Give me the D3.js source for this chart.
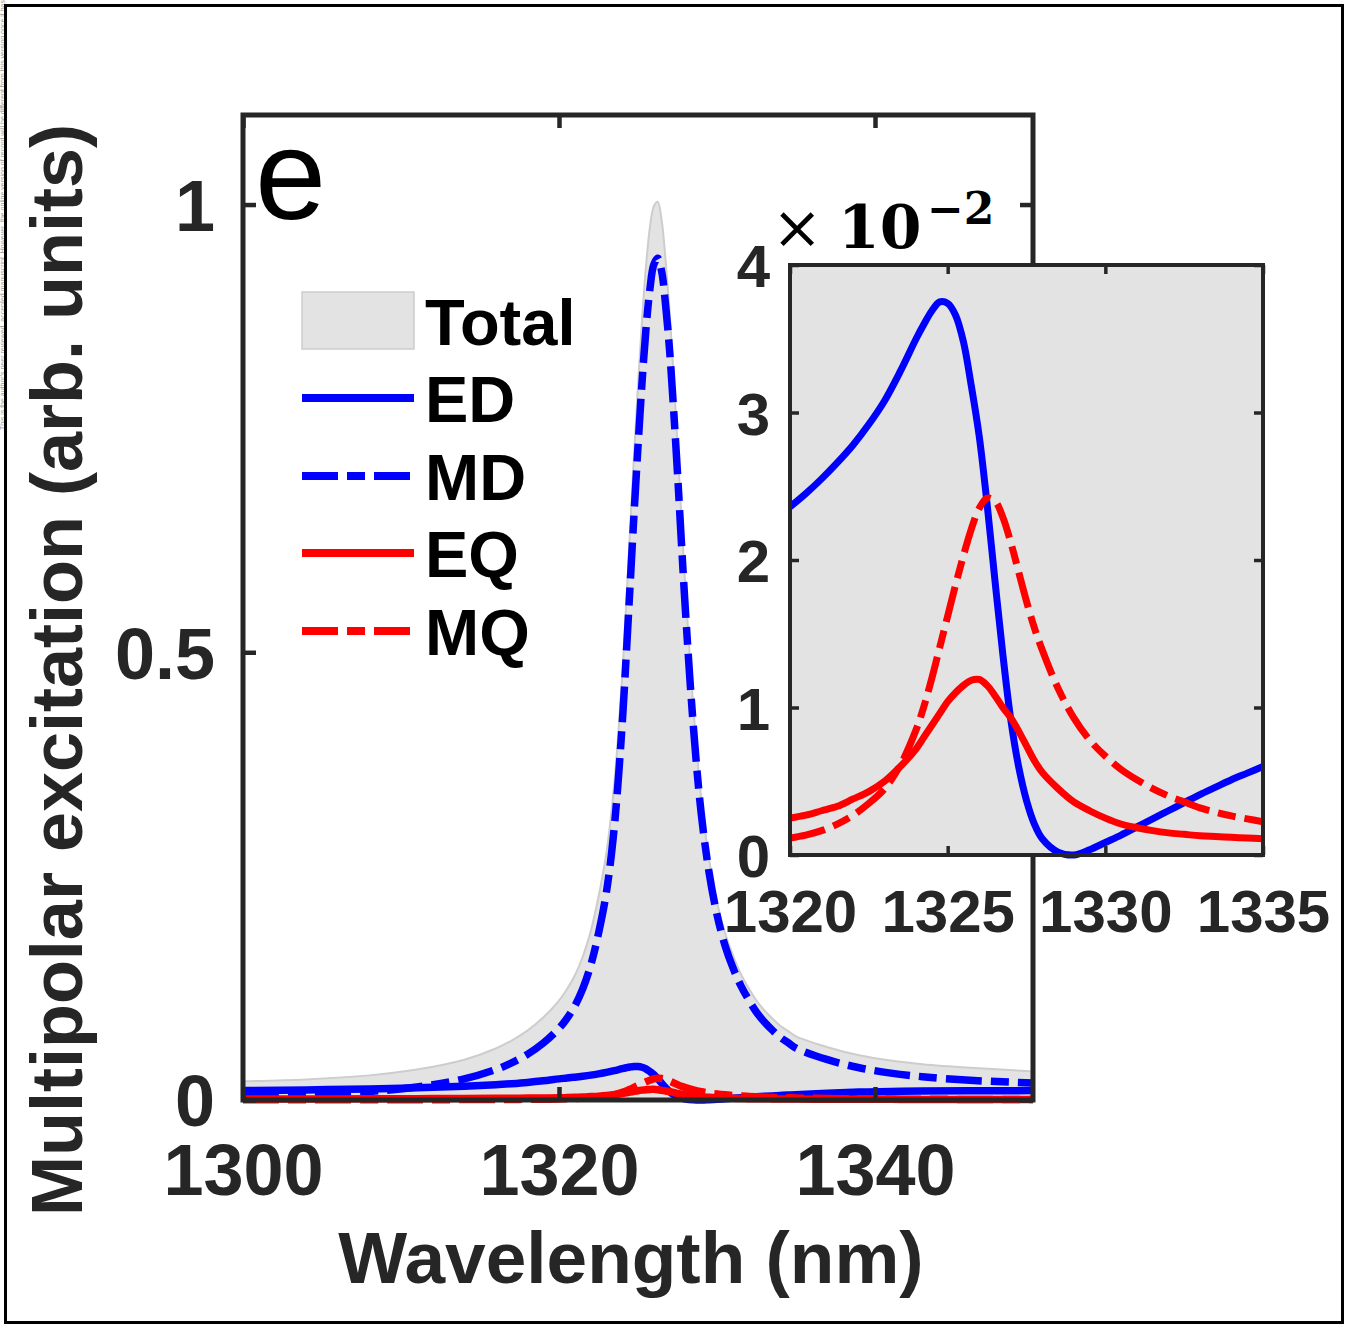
<!DOCTYPE html>
<html><head><meta charset="utf-8">
<script src="https://cdn.jsdelivr.net/npm/d3@7"></script>
<style>body{margin:0;background:#fff}svg{display:block}</style>
</head><body>
<svg id="c" width="1346" height="1336"></svg>
<script>
// ---------- data ----------
const wavelength = [1300,1304,1308,1311,1314,1316,1317,1318,1319,1320,1320.5,1321,1321.5,1322,1322.5,1323,1323.5,1324,1324.25,1324.5,1324.75,1325,1325.25,1325.5,1325.75,1326,1326.25,1326.5,1326.75,1327,1327.25,1327.5,1327.75,1328,1328.5,1329,1329.5,1330,1330.5,1331,1331.5,1332,1332.5,1333,1333.5,1334,1334.5,1335,1337,1339,1341,1343,1346,1350];
const totalVals = [0.021,0.023,0.0275,0.034,0.045,0.0575,0.0664,0.0775,0.0921,0.111,0.1236,0.139,0.160,0.188,0.227,0.276,0.354,0.474,0.553,0.637,0.721,0.798,0.870,0.930,0.974,0.998,1.003,0.982,0.937,0.881,0.810,0.732,0.650,0.572,0.439,0.337,0.269,0.221,0.187,0.162,0.141,0.125,0.111,0.100,0.091,0.083,0.077,0.071,0.059,0.050,0.044,0.040,0.036,0.032];
const edVals = [0.0105,0.0113,0.0124,0.0136,0.0153,0.0170,0.0182,0.0196,0.0214,0.0236,0.0245,0.0255,0.0266,0.0278,0.0292,0.0308,0.0328,0.0350,0.0360,0.0369,0.0375,0.0374,0.0366,0.0348,0.0318,0.0284,0.0238,0.0186,0.0136,0.0092,0.0060,0.0037,0.0021,0.0011,0.0002,0.0000,0.00035,0.00085,0.00135,0.0019,0.00245,0.0030,0.00355,0.0041,0.0046,0.0051,0.00555,0.0060,0.0076,0.0088,0.0096,0.0100,0.0103,0.0105];
const mdVals = [0.0046,0.0062,0.0095,0.0145,0.0235,0.034,0.0415,0.051,0.0635,0.080,0.091,0.105,0.124,0.150,0.186,0.232,0.305,0.420,0.495,0.575,0.655,0.730,0.800,0.860,0.905,0.933,0.940,0.925,0.887,0.837,0.772,0.700,0.622,0.547,0.418,0.320,0.254,0.207,0.173,0.148,0.128,0.112,0.098,0.087,0.078,0.070,0.064,0.058,0.045,0.036,0.030,0.026,0.022,0.019];
const eqVals = [0.0010,0.0011,0.0013,0.0015,0.0017,0.0019,0.0020,0.00215,0.0023,0.0025,0.0027,0.0030,0.0033,0.0038,0.0043,0.0050,0.0060,0.0072,0.0080,0.0088,0.0096,0.0104,0.0110,0.0115,0.01185,0.0119,0.0115,0.0108,0.0100,0.0093,0.0084,0.0074,0.0064,0.0056,0.0045,0.0036,0.0030,0.0025,0.0021,0.00185,0.00165,0.0015,0.0014,0.0013,0.00125,0.0012,0.00115,0.0011,0.0009,0.0008,0.0007,0.00065,0.0006,0.0005];
const mqVals = [0.0002,0.00025,0.0003,0.00035,0.00045,0.00055,0.00065,0.00075,0.0009,0.00115,0.00135,0.00165,0.0021,0.0027,0.0035,0.0045,0.0061,0.0085,0.0101,0.0120,0.0141,0.0162,0.0183,0.0203,0.0221,0.0235,0.0242,0.0240,0.0229,0.0212,0.0192,0.0172,0.0154,0.0139,0.0113,0.0093,0.0078,0.0067,0.0058,0.0051,0.0045,0.0040,0.0036,0.0032,0.0029,0.00265,0.00245,0.00225,0.0017,0.0013,0.0010,0.00085,0.00065,0.0005];

const mainTicksX = [1300,1320,1340];
const mainTicksY = [0,0.5,1];
const insetTicksX = [1320,1325,1330,1335];
const insetTicksY = [0,0.01,0.02,0.03,0.04];
const legendLabels = ["Total","ED","MD","EQ","MQ"];
const xLabel = "Wavelength (nm)";
const yLabel = "Multipolar excitation (arb. units)";
const panelLabel = "e";

// ---------- setup ----------
const svg = d3.select("#c");
const AX = "#262626";
const BLUE = "#0000ff", RED = "#ff0000", FILL = "#e3e3e3", EDGE = "#cdcdcd";
const DASHDOT = "36,9,18,9";
const CURVE = d3.curveCatmullRom.alpha(0.5);

svg.append("rect").attr("x",0).attr("y",0).attr("width",1346).attr("height",1336).attr("fill","#fff");

// faint side note at the far left edge
svg.append("text").attr("transform","translate(5,430) rotate(-90)")
  .attr("font-family","Liberation Sans, Arial, sans-serif").attr("font-size",7).attr("fill","#9a9a9a")
  .text("This is the author's peer reviewed, accepted manuscript. However, the online version of record will be different from this version once it has been copyedited and typeset.");

// outer frame
svg.append("rect").attr("x",5.5).attr("y",5.5).attr("width",1337).attr("height",1317)
  .attr("fill","none").attr("stroke","#000").attr("stroke-width",3);

const data = wavelength.map((w,i)=>({w, total: totalVals[i], ed: edVals[i], md: mdVals[i], eq: eqVals[i], mq: mqVals[i]}));

// ---------- main axes ----------
const x = d3.scaleLinear().domain([1300,1350]).range([243,1033]);
const y = d3.scaleLinear().domain([0,1.1]).range([1100,115]);

const gMain = svg.append("g");
const area = d3.area().curve(CURVE).x(d=>x(d.w)).y0(y(0)).y1(d=>y(d.total));
gMain.append("path").datum(data).attr("d",area).attr("fill",FILL).attr("stroke",EDGE).attr("stroke-width",2);

const series = [
  {key:"ed", color:BLUE, dash:null},
  {key:"md", color:BLUE, dash:DASHDOT},
  {key:"eq", color:RED, dash:null},
  {key:"mq", color:RED, dash:DASHDOT}
];
series.forEach(s=>{
  const ln = d3.line().curve(CURVE).x(d=>x(d.w)).y(d=>y(d[s.key]));
  gMain.append("path").datum(data).attr("d",ln).attr("fill","none")
    .attr("stroke",s.color).attr("stroke-width",7.5).attr("stroke-dasharray",s.dash);
});

// ticks (inward) and labels
const fontMain = "Liberation Sans, Arial, sans-serif";
function styleAxis(g, fs){
  g.select(".domain").remove();
  g.selectAll(".tick line").attr("stroke",AX).attr("stroke-width",4.5);
  g.selectAll(".tick text").attr("fill",AX).attr("font-family",fontMain).attr("font-weight","bold").attr("font-size",fs);
}
const axB = svg.append("g").attr("transform",`translate(0,${y(0)})`)
  .call(d3.axisBottom(x).tickValues(mainTicksX).tickFormat(d3.format("d")).tickSizeInner(-13).tickSizeOuter(0).tickPadding(44));
styleAxis(axB,72);
const axT = svg.append("g").attr("transform",`translate(0,${y(1.1)})`)
  .call(d3.axisTop(x).tickValues(mainTicksX).tickFormat("").tickSizeInner(-13).tickSizeOuter(0));
styleAxis(axT,72);
const axL = svg.append("g").attr("transform",`translate(${x(1300)},0)`)
  .call(d3.axisLeft(y).tickValues(mainTicksY).tickFormat(d=>d===0?"0":(d===1?"1":d3.format(".1f")(d))).tickSizeInner(-13).tickSizeOuter(0).tickPadding(28));
styleAxis(axL,72);
axL.selectAll(".tick text").attr("dy","0.36em");
const axR = svg.append("g").attr("transform",`translate(${x(1350)},0)`)
  .call(d3.axisRight(y).tickValues(mainTicksY).tickFormat("").tickSizeInner(-13).tickSizeOuter(0));
styleAxis(axR,72);
svg.append("rect").attr("x",x(1300)).attr("y",y(1.1)).attr("width",x(1350)-x(1300)).attr("height",y(0)-y(1.1))
  .attr("fill","none").attr("stroke",AX).attr("stroke-width",5);

// axis labels
svg.append("text").attr("x",631).attr("y",1283).attr("text-anchor","middle")
  .attr("font-family",fontMain).attr("font-weight","bold").attr("font-size",73).attr("fill",AX).text(xLabel);
svg.append("text").attr("transform","translate(82,670) rotate(-90)").attr("text-anchor","middle")
  .attr("font-family",fontMain).attr("font-weight","bold").attr("font-size",72).attr("fill",AX).text(yLabel);

// panel label
svg.append("text").attr("x",255).attr("y",219).attr("font-family",fontMain).attr("font-size",128).attr("fill","#000").text(panelLabel);

// legend
const lg = svg.append("g");
const legY = [320, 398, 476, 553, 631];
const legBase = [345, 422, 500, 577, 655];
lg.append("rect").attr("x",302).attr("y",292).attr("width",112).attr("height",57)
  .attr("fill",FILL).attr("stroke",EDGE).attr("stroke-width",1.5);
series.forEach((s,i)=>{
  lg.append("line").attr("x1",302).attr("x2",414).attr("y1",legY[i+1]).attr("y2",legY[i+1])
    .attr("stroke",s.color).attr("stroke-width",8).attr("stroke-dasharray",s.dash);
});
legendLabels.forEach((t,i)=>{
  lg.append("text").attr("x",425).attr("y",legBase[i]).attr("font-family",fontMain).attr("font-weight","bold")
    .attr("font-size",65).attr("fill","#000").text(t);
});

// ---------- inset ----------
const xi = d3.scaleLinear().domain([1320,1335]).range([790,1263]);
const yi = d3.scaleLinear().domain([0,0.04]).range([855,265]);
const insetData = data.filter(d=>d.w>=1320 && d.w<=1335);

svg.append("rect").attr("x",790).attr("y",265).attr("width",473).attr("height",590).attr("fill","#fff");
const defs = svg.append("defs");
defs.append("clipPath").attr("id","clipArea").append("rect").attr("x",790).attr("y",265).attr("width",473).attr("height",590);
defs.append("clipPath").attr("id","clipLine").append("rect").attr("x",790).attr("y",261).attr("width",473).attr("height",598);

const gIn = svg.append("g");
const areaI = d3.area().curve(CURVE).x(d=>xi(d.w)).y0(yi(0)).y1(d=>yi(d.total));
gIn.append("path").datum(insetData).attr("d",areaI).attr("fill",FILL).attr("clip-path","url(#clipArea)");
series.filter(s=>s.key!=="md").forEach(s=>{
  const ln = d3.line().curve(CURVE).x(d=>xi(d.w)).y(d=>yi(d[s.key]));
  gIn.append("path").datum(insetData).attr("d",ln).attr("fill","none").attr("clip-path","url(#clipLine)")
    .attr("stroke",s.color).attr("stroke-width",7).attr("stroke-dasharray",s.dash);
});

function styleInset(g){
  g.select(".domain").remove();
  g.selectAll(".tick line").attr("stroke",AX).attr("stroke-width",3.5);
  g.selectAll(".tick text").attr("fill",AX).attr("font-family",fontMain).attr("font-weight","bold").attr("font-size",60);
}
const iB = svg.append("g").attr("transform",`translate(0,${yi(0)})`)
  .call(d3.axisBottom(xi).tickValues(insetTicksX).tickFormat(d3.format("d")).tickSizeInner(-9).tickSizeOuter(0).tickPadding(34));
styleInset(iB);
const iT = svg.append("g").attr("transform",`translate(0,${yi(0.04)})`)
  .call(d3.axisTop(xi).tickValues(insetTicksX).tickFormat("").tickSizeInner(-9).tickSizeOuter(0));
styleInset(iT);
const iL = svg.append("g").attr("transform",`translate(${xi(1320)},0)`)
  .call(d3.axisLeft(yi).tickValues(insetTicksY).tickFormat(d=>d3.format("d")(Math.round(d*100))).tickSizeInner(-9).tickSizeOuter(0).tickPadding(20));
styleInset(iL);
iL.selectAll(".tick text").attr("dy","0.36em");
const iR = svg.append("g").attr("transform",`translate(${xi(1335)},0)`)
  .call(d3.axisRight(yi).tickValues(insetTicksY).tickFormat("").tickSizeInner(-9).tickSizeOuter(0));
styleInset(iR);
svg.append("rect").attr("x",790).attr("y",265).attr("width",473).attr("height",590)
  .attr("fill","none").attr("stroke",AX).attr("stroke-width",4);

// exponent label
const serif = "DejaVu Serif, serif";
svg.append("text").attr("x",772).attr("y",248).attr("font-family",serif).attr("font-size",60).attr("fill","#000").text("×");
svg.append("text").attr("x",838).attr("y",248).attr("font-family",serif).attr("font-weight","bold").attr("font-size",60).attr("fill","#000").text("10");
svg.append("text").attr("x",927).attr("y",224).attr("font-family",serif).attr("font-weight","bold").attr("font-size",44).attr("fill","#000").text("−2");
</script>
</body></html>
